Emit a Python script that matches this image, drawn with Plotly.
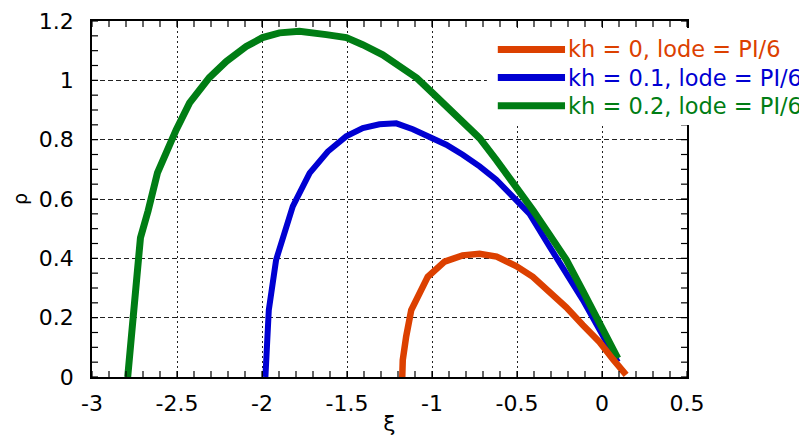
import plotly.graph_objects as go

# ---- data ----
x_kh0 = [-1.175, -1.172, -1.152, -1.122, -1.025, -0.926, -0.82, -0.72, -0.62, -0.505,
         -0.407, -0.309, -0.21, -0.113, -0.015, 0.064, 0.142]
y_kh0 = [0.0, 0.057, 0.136, 0.226, 0.338, 0.389, 0.41, 0.415, 0.406, 0.374,
         0.338, 0.29, 0.235, 0.175, 0.118, 0.06, 0.007]

x_kh01 = [-1.98, -1.96, -1.917, -1.819, -1.72, -1.613, -1.505, -1.407, -1.309, -1.21,
          -1.113, -1.005, -0.916, -0.819, -0.72, -0.622, -0.525, -0.426, -0.309, -0.21,
          -0.113, -0.015, 0.093]
y_kh01 = [0.0, 0.226, 0.395, 0.575, 0.687, 0.76, 0.811, 0.839, 0.852, 0.855,
          0.835, 0.805, 0.783, 0.749, 0.71, 0.665, 0.605, 0.55, 0.44, 0.35,
          0.26, 0.16, 0.05]

x_kh02 = [-2.79, -2.715, -2.67, -2.615, -2.505, -2.426, -2.31, -2.21, -2.093, -1.997,
          -1.897, -1.78, -1.622, -1.504, -1.408, -1.29, -1.19, -1.09, -0.996, -0.897,
          -0.8, -0.72, -0.622, -0.505, -0.407, -0.309, -0.21, -0.113, 0.005, 0.093]
y_kh02 = [0.0, 0.469, 0.56, 0.688, 0.833, 0.924, 1.009, 1.064, 1.114, 1.144,
          1.16, 1.165, 1.154, 1.144, 1.12, 1.086, 1.047, 1.008, 0.957, 0.901,
          0.85, 0.805, 0.732, 0.642, 0.563, 0.48, 0.395, 0.29, 0.158, 0.063]

series_names = ["kh = 0, lode = PI/6", "kh = 0.1, lode = PI/6", "kh = 0.2, lode = PI/6"]
series_colors = ["rgb(220,64,0)", "rgb(0,0,210)", "rgb(0,125,20)"]
series_widths = [6.5, 6, 7]

x_tickvals = [-3, -2.5, -2, -1.5, -1, -0.5, 0, 0.5]
x_ticktext = ["-3", "-2.5", "-2", "-1.5", "-1", "-0.5", "0", "0.5"]
y_tickvals = [0, 0.2, 0.4, 0.6, 0.8, 1.0, 1.2]
y_ticktext = ["0", "0.2", "0.4", "0.6", "0.8", "1", "1.2"]
x_minor_step = 0.1
y_minor_step = 0.05

FONT = "DejaVu Sans"
TICK_LEN = 6

fig = go.Figure()
xs = [x_kh0, x_kh01, x_kh02]
ys = [y_kh0, y_kh01, y_kh02]
for i in [1, 2, 0]:
    fig.add_trace(go.Scatter(
        x=xs[i], y=ys[i], mode="lines", name=series_names[i],
        line=dict(color=series_colors[i], width=series_widths[i]),
        showlegend=False,
    ))


def minor_vals(lo, hi, step):
    n = int(round((hi - lo) / step))
    return [round(lo + k * step, 6) for k in range(n + 1)]


shapes = []
# inside minor ticks on all four sides (axis positions in data units, length in pixels)
tick_line = dict(color="black", width=1.2)
for v in minor_vals(x_tickvals[0], x_tickvals[-1], x_minor_step):
    shapes.append(dict(type="line", xref="x", yref="paper", ysizemode="pixel", yanchor=0,
                       x0=v, x1=v, y0=0, y1=TICK_LEN, line=tick_line, layer="above"))
    shapes.append(dict(type="line", xref="x", yref="paper", ysizemode="pixel", yanchor=1,
                       x0=v, x1=v, y0=0, y1=-TICK_LEN, line=tick_line, layer="above"))
for v in minor_vals(y_tickvals[0], y_tickvals[-1], y_minor_step):
    shapes.append(dict(type="line", xref="paper", yref="y", xsizemode="pixel", xanchor=0,
                       y0=v, y1=v, x0=0, x1=TICK_LEN, line=tick_line, layer="above"))
    shapes.append(dict(type="line", xref="paper", yref="y", xsizemode="pixel", xanchor=1,
                       y0=v, y1=v, x0=0, x1=-TICK_LEN, line=tick_line, layer="above"))

# manual legend (white box, long line samples, coloured labels)
shapes.append(dict(type="rect", xref="paper", yref="paper", x0=0.6636, x1=1.3,
                   y0=0.708, y1=0.980, fillcolor="white", line=dict(width=0), layer="above"))
annotations = []
leg_y = [0.92, 0.841, 0.762]
for i in range(3):
    shapes.append(dict(type="line", xref="paper", yref="paper", x0=0.682, x1=0.795,
                       y0=leg_y[i], y1=leg_y[i], layer="above",
                       line=dict(color=series_colors[i], width=7)))
    annotations.append(dict(xref="paper", yref="paper", x=0.797, y=leg_y[i],
                            xanchor="left", yanchor="middle", showarrow=False,
                            text=series_names[i],
                            font=dict(family=FONT, size=22.5, color=series_colors[i])))

axis_common = dict(
    showline=True, linecolor="black", linewidth=1.5, mirror="ticks",
    ticks="inside", ticklen=TICK_LEN, tickcolor="black", tickwidth=1.2,
    zeroline=False, showgrid=True, gridcolor="#222", gridwidth=1,
    automargin=False, tickmode="array",
    tickfont=dict(family=FONT, size=22, color="black"),
)

# the page body adds an 8px offset; margins compensate so the plot sits where the reference's does
fig.update_layout(
    width=807, height=439,
    margin=dict(l=84, r=128, t=13, b=70),
    paper_bgcolor="white", plot_bgcolor="white",
    xaxis=dict(range=[x_tickvals[0], x_tickvals[-1]], tickvals=x_tickvals, ticktext=x_ticktext,
               griddash="2px,3px", ticklabelstandoff=6,
               title=dict(text="ξ", font=dict(family=FONT, size=22, color="black"),
                          standoff=0),
               **axis_common),
    yaxis=dict(range=[y_tickvals[0], y_tickvals[-1]], tickvals=y_tickvals, ticktext=y_ticktext,
               griddash="5px,3px", ticklabelstandoff=12,
               title=dict(text="ρ", font=dict(family=FONT, size=19, color="black"),
                          standoff=6),
               **axis_common),
    shapes=shapes,
    annotations=annotations,
)

fig.write_html("out.html")
